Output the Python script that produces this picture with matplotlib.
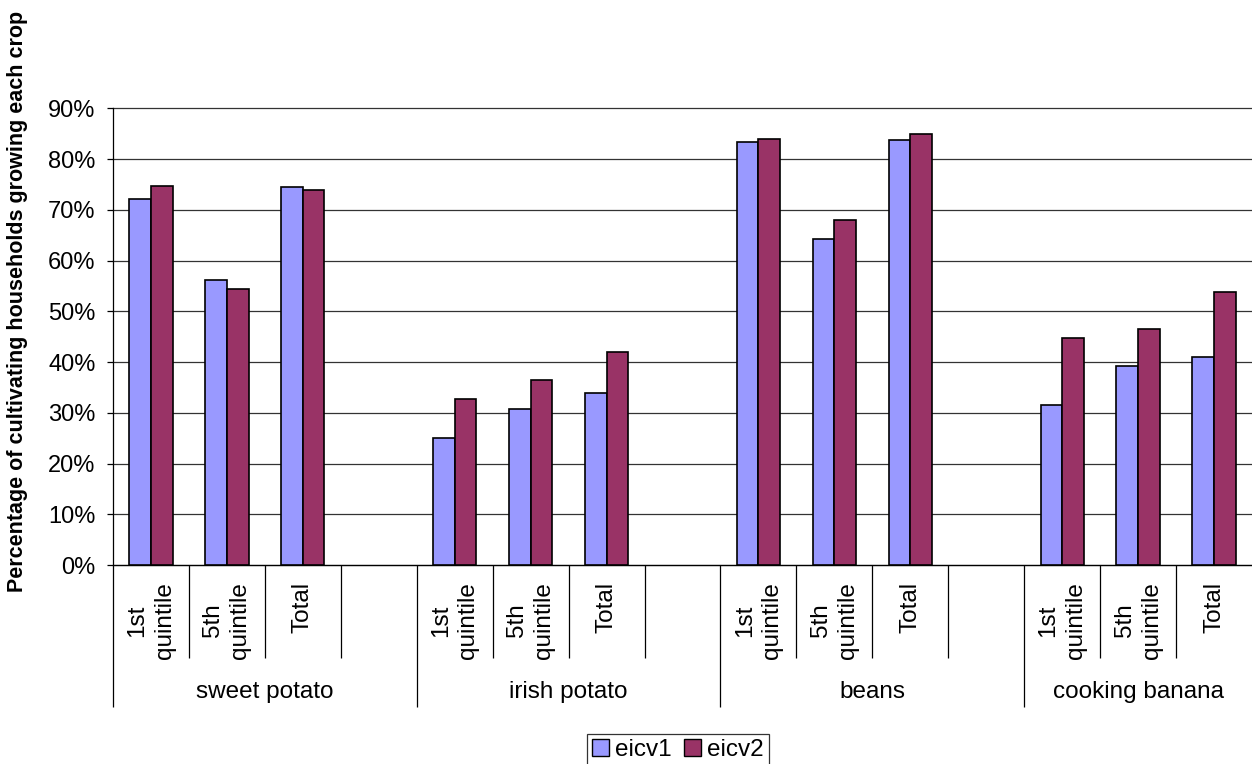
import numpy as np
import matplotlib
matplotlib.use("Agg")
import matplotlib.pyplot as plt
from matplotlib.patches import Patch

plt.rcParams['font.family'] = ['Liberation Sans', 'DejaVu Sans']

# data
crops = ["sweet potato", "irish potato", "beans", "cooking banana"]
subgroups = ["1st\nquintile", "5th\nquintile", "Total"]
eicv1 = [72.1, 56.2, 74.6, 25.0, 30.8, 34.0, 83.4, 64.2, 83.7, 31.5, 39.2, 41.0]
eicv2 = [74.8, 54.5, 74.0, 32.7, 36.4, 42.0, 83.9, 68.0, 84.9, 44.7, 46.6, 53.8]
yticks = [0, 10, 20, 30, 40, 50, 60, 70, 80, 90]

FS = 17.5
W, H = 1252, 764
fig = plt.figure(figsize=(W / 100, H / 100), dpi=100)
# plot area in pixels: left 113, right 1252, top 108.5, bottom 565
ax = fig.add_axes([113 / W, 1 - 565 / H, (1252 - 113) / W, (565 - 108.5) / H])

# each crop takes 4 slots, last slot of each group left empty
pos = []
for g in range(len(crops)):
    for s in range(len(subgroups)):
        pos.append(g * 4 + s)
pos = np.array(pos, dtype=float)

bw = 0.285
ax.bar(pos - bw / 2, eicv1, width=bw, color="#9999FF", edgecolor="black", linewidth=1.2, zorder=3)
ax.bar(pos + bw / 2, eicv2, width=bw, color="#993366", edgecolor="black", linewidth=1.2, zorder=3)

ax.set_xlim(-0.5, 14.5)
ax.set_ylim(0, 90)
ax.set_yticks(yticks)
ax.set_yticklabels([f"{v}%" for v in yticks], fontsize=17)
ax.yaxis.grid(True, color="#333333", linewidth=0.9)
for gl in ax.get_ygridlines():
    gl.set_clip_on(False)
ax.set_axisbelow(True)
ax.tick_params(axis="y", direction="out", length=4.5, width=0.9, pad=8)

for sp in ["top", "right"]:
    ax.spines[sp].set_visible(False)
ax.spines["left"].set_linewidth(0.9)
ax.spines["bottom"].set_linewidth(0.9)

# category axis: long ticks at group edges, short at slot edges
group_edges = [-0.5, 3.5, 7.5, 11.5]
slot_edges = [e for e in np.arange(-0.5, 14.0, 1.0) if e not in group_edges]
ax.set_xticks(group_edges)
ax.set_xticks(slot_edges, minor=True)
ax.set_xticklabels([])
ax.tick_params(axis="x", which="major", direction="out", length=102, width=0.9)
ax.tick_params(axis="x", which="minor", direction="out", length=67, width=0.9)

tr = matplotlib.transforms.blended_transform_factory(ax.transData, fig.transFigure)
for g in range(len(crops)):
    for s, lab in enumerate(subgroups):
        ax.text(g * 4 + s, 1 - 582 / H, lab, rotation=90, ha="center", va="top",
                multialignment="center", fontsize=FS, linespacing=1.3, transform=tr)
    nslots = 4 if g < len(crops) - 1 else 3
    ax.text(g * 4 + (nslots - 1) / 2, 1 - 692 / H, crops[g], ha="center", va="center",
            fontsize=FS, transform=tr)

fig.text(18 / W, 1 - 301 / H, "Percentage of cultivating households growing each crop",
         rotation=90, ha="center", va="center", fontsize=15.5, fontweight="bold")

handles = [Patch(facecolor="#9999FF", edgecolor="black"), Patch(facecolor="#993366", edgecolor="black")]
leg = fig.legend(handles, ["eicv1", "eicv2"], loc="center", bbox_to_anchor=(678 / W, 1 - 750 / H),
                 ncol=2, fontsize=FS, frameon=True, fancybox=False, handlelength=0.7,
                 handleheight=0.7, handletextpad=0.25, columnspacing=0.5, borderpad=0.2,
                 borderaxespad=0)
leg.get_frame().set_edgecolor("black")
leg.get_frame().set_linewidth(0.9)

fig.savefig("out.png", dpi=100)
